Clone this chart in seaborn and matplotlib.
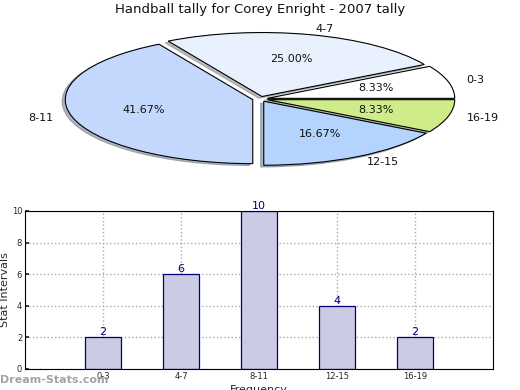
import matplotlib
matplotlib.use("Agg")
import matplotlib.pyplot as plt
import seaborn as sns

# data
intervals = ["0-3", "4-7", "8-11", "12-15", "16-19"]
counts = [2, 6, 10, 4, 2]
pie_colors = ["#ffffff", "#eaf1fe", "#c4d8fe", "#b4d4fe", "#d0eb8a"]

sns.set_theme(style="white")
plt.rcParams['font.family'] = ['DejaVu Sans']

fig = plt.figure(figsize=(5.2, 3.9), dpi=100)

# --- pie (squashed into an ellipse) ---
pax = fig.add_axes([0.5 - 187.5 / 520, 1 - (99 + 64) / 390, 375 / 520, 128 / 390])
wedges, texts, autotexts = pax.pie(
    counts, labels=intervals, colors=pie_colors, startangle=0,
    explode=[0.04] * 5, autopct="%.2f%%", pctdistance=0.6,
    labeldistance=1.1, shadow={"ox": -0.012, "oy": -0.02, "shade": 0.5},
    wedgeprops=dict(edgecolor="black", linewidth=0.8),
    textprops=dict(fontsize=8, color="#111111"),
)
for w in wedges:
    w.set_clip_on(False)
pax.set_aspect("auto")
pax.set_xlim(-1, 1)
pax.set_ylim(-1, 1)
pax.axis("off")

fig.text(0.5, 1 - 10 / 390, "Handball tally for Corey Enright - 2007 tally",
         ha="center", va="center", fontsize=9.5, color="#111111")

# --- bar chart ---
ax = fig.add_axes([25 / 520, 1 - 369 / 390, 468 / 520, 158 / 390])
sns.barplot(x=intervals, y=counts, color="#cbcbe3", edgecolor="#000080",
            linewidth=0.9, saturation=1, width=0.46, ax=ax, zorder=2)
ax.set_xlim(-1, 5)
ax.set_ylim(0, 10)
ax.set_yticks(range(0, 11, 2))
ax.grid(True, linestyle=":", color="#aaaaaa", linewidth=1)
ax.set_axisbelow(True)
ax.tick_params(axis="both", labelsize=6, direction="in", length=3, pad=2,
               left=True, bottom=True)
for s in ax.spines.values():
    s.set_color("black")
    s.set_linewidth(0.8)
for i, v in enumerate(counts):
    ax.text(i, v, str(v), ha="center", va="bottom", fontsize=8, color="#000080")
ax.set_ylabel("Stat Intervals", fontsize=8)
ax.yaxis.set_label_coords(-0.033, 0.5)
ax.set_xlabel("Frequency", fontsize=8, labelpad=3)

fig.text(0.0, 1 - 380 / 390, "Dream-Stats.com", ha="left", va="center",
         fontsize=8, color="#999999", fontweight="bold", alpha=0.9)

fig.savefig("out.png", dpi=100)
